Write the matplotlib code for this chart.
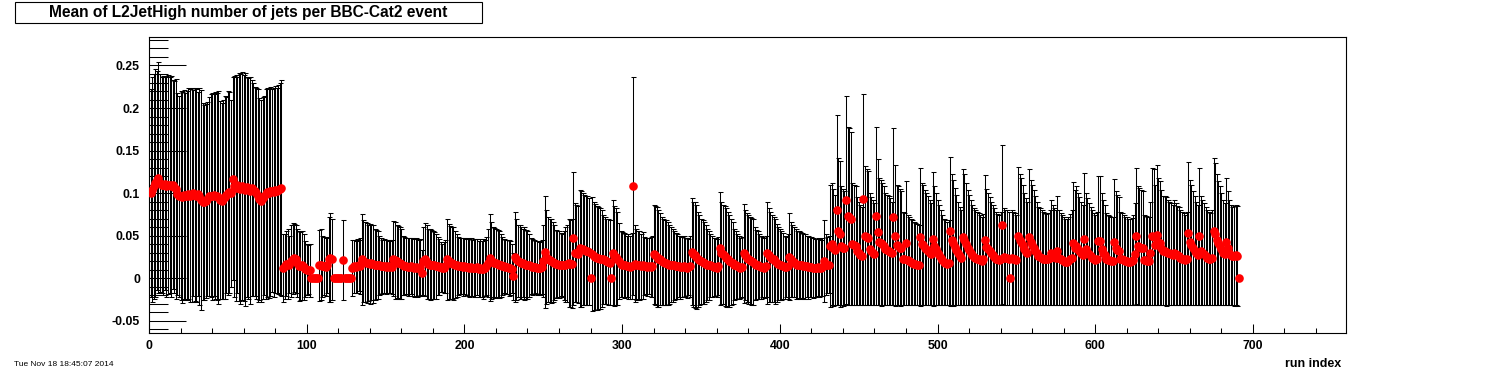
import numpy as np
import matplotlib
matplotlib.use("Agg")
import matplotlib.pyplot as plt
from matplotlib.patches import Rectangle
from matplotlib.ticker import MultipleLocator, FuncFormatter

# ---------------- data (values x 1000), one entry per run index 1..691 ----------------
mean_milli = [
    # runs 1-84
    100,104,108,112,115,118,112,110,109,111, 108,110,109,108,110,107,105,99,96,97,
    95,98,96,97,99,97,98,100,98,97, 99,96,92,90,89,91,93,96,97,96,
    98,97,96,95,92,91,93,95,98,100, 101,100,117,108,106,110,107,105,108,106,
    104,107,105,103,106,104,102,100,97,93, 91,94,97,99,101,100,102,103,101,104,
    103,104,105,106,
    # runs 85-129
    12,14,17,17,16,20,23,24,22,18, 14,14,15,13,11,10,10,9,
    0,0,0,0,0,
    15,16,14,14,13,15,22,24,22,
    0,0,0,0,0,0,
    21,
    0,0,0,0,0,
    12,
    # runs 130-431
    14,13,14,15,14,22,20,19,18,18, 17,18,17,16,16,16,15,14,14,14,
    13,14,13,14,13,23,21,20,18,18, 17,15,14,14,13,13,14,13,12,13,
    12,12,13,6,20,22,19,17,16,16, 15,15,14,14,13,13,12,12,14,22,
    20,18,18,17,16,15,14,14,14,13, 14,13,13,12,13,12,12,12,13,11,
    12,11,11,12,14,18,24,21,19,18, 18,17,16,15,14,14,13,13,12,12,
    11,2,25,22,20,19,18,18,17,16, 16,15,14,13,13,13,12,12,12,13,
    20,31,25,22,21,20,19,18,17,17, 16,16,15,15,16,17,18,17,17,47,
    30,29,28,35,34,34,33,32,32,31, 0,28,26,25,24,24,23,23,22,21,
    20,19,18,0,30,26,25,23,20,17, 16,15,15,14,14,13,14,108,17,16,
    15,15,14,15,14,14,13,14,13,14, 28,27,25,23,22,20,19,18,18,17,
    16,16,15,15,14,14,14,13,13,14, 13,12,13,14,31,28,27,25,22,21,
    20,19,18,17,16,15,15,14,13,13, 12,14,35,30,28,26,24,22,20,19,
    18,16,15,14,13,12,13,29,27,24, 22,21,20,19,17,16,15,14,13,13,
    12,14,30,27,25,23,22,20,18,17, 16,15,14,13,13,14,25,22,20,19,
    17,16,16,15,15,14,14,14,13,13, 13,12,12,12,13,12,12,13,20,16,
    15,16,
    # runs 432-691
    38,40,36,33,80,55,52,38,36,35, 92,73,72,70,40,39,38,32,29,27,
    26,93,50,48,47,34,32,30,28,73, 54,43,41,40,38,34,33,32,31,29,
    72,50,39,38,36,35,23,22,41,21, 20,19,18,17,17,16,15,48,40,39,
    36,34,32,30,28,46,38,34,30,27, 24,21,19,18,17,18,55,45,41,37,
    33,29,26,24,48,45,40,36,33,30, 27,25,24,23,22,21,20,22,45,37,
    34,32,29,27,25,23,22,21,23,63, 25,24,24,23,0,24,23,22,21,50,
    45,43,39,34,31,29,48,42,39,36, 32,29,26,25,24,23,22,22,22,24,
    30,27,25,24,32,24,22,21,20,19, 19,20,22,24,41,36,38,34,32,29,
    27,46,34,31,28,26,24,22,21,23, 44,44,34,30,27,22,21,21,20,20,
    42,35,33,32,23,22,21,20,20,19, 19,20,21,28,50,38,37,36,35,21,
    21,20,20,29,49,48,39,51,43,41, 36,32,32,31,30,29,28,27,30,28,
    27,26,24,23,22,21,23,53,42,39, 35,32,29,27,49,32,30,28,26,24,
    23,22,24,55,52,45,41,38,34,30, 28,43,35,30,27,26,26,27,26,0,
]

upper_milli = [
    # runs 1-84 (top end of the error bar)
    222,236,240,246,244,254,240,237,238,236, 238,239,236,238,233,232,234,218,214,220,
    219,221,218,220,223,222,224,221,223,222, 219,223,221,206,204,205,207,213,216,218,
    217,219,218,220,208,206,210,214,213,220, 219,210,236,238,239,237,241,240,242,239,
    241,236,235,236,233,229,225,224,222,212, 210,213,214,222,224,223,225,222,224,226,
    224,227,230,233,
    # runs 85-129
    52,52,55,58,50,62,65,64,62,58, 55,54,56,52,44,40,39,40,
    0,0,0,0,0,
    57,58,50,48,47,48,72,76,70,
    0,0,0,0,0,0,
    68,
    0,0,0,0,0,
    45,
    # runs 130-431
    45,44,46,45,47,75,68,66,65,63, 64,62,63,58,57,56,50,47,45,46,
    45,45,44,45,45,67,66,63,61,60, 58,50,48,47,47,47,47,47,46,47,
    46,45,46,33,60,65,62,58,58,57, 55,54,52,48,46,42,40,42,45,70,
    64,61,60,60,55,52,48,47,47,47, 47,46,47,46,47,45,46,46,46,44,
    46,44,46,45,48,58,75,66,60,59, 58,57,55,52,48,46,45,45,45,44,
    40,30,78,70,62,62,60,58,60,57, 56,52,47,46,45,44,44,43,44,45,
    62,97,80,72,70,69,66,62,57,56, 55,53,52,56,60,62,70,68,69,125,
    88,86,85,104,102,100,98,96,96,94, 0,95,90,87,85,84,82,80,74,72,
    70,69,68,0,92,85,82,78,65,56, 54,53,52,50,52,50,53,236,62,58,
    55,56,52,54,48,47,47,47,48,50, 86,85,84,80,76,72,70,68,68,66,
    62,60,58,56,53,52,50,50,48,50, 47,47,46,50,94,90,89,86,78,74,
    70,68,66,62,58,56,52,50,47,47, 46,48,101,90,86,85,82,78,74,70,
    66,58,55,52,50,47,48,87,80,76, 74,72,71,70,60,57,55,52,50,48,
    47,50,90,82,78,74,72,70,64,60, 58,56,53,50,48,52,76,66,62,60,
    58,56,55,54,53,52,52,50,50,48, 48,47,46,46,47,46,45,47,68,52,
    48,50,
    # runs 432-691
    110,112,105,98,192,141,138,108,105,102, 214,178,176,172,112,110,108,95,90,86,
    84,217,132,128,126,100,95,92,88,178, 140,118,115,112,108,100,98,96,94,90,
    176,133,110,108,105,102,78,76,114,74, 72,70,68,66,65,64,62,129,112,110,
    104,100,96,92,88,125,108,100,92,86, 80,74,70,68,66,68,143,122,115,106,
    98,90,84,80,128,122,112,104,98,92, 86,82,80,78,76,74,72,75,121,105,
    100,95,90,86,82,78,75,74,78,156, 82,80,80,78,0,80,78,76,74,131,
    122,118,110,100,94,90,128,115,110,104, 96,90,84,82,80,78,76,75,76,80,
    92,86,82,80,96,80,76,74,72,70, 70,72,75,80,113,104,108,100,95,90,
    86,124,100,94,88,84,80,76,74,78, 120,120,100,92,86,76,74,73,72,72,
    116,102,98,95,78,76,74,72,72,70, 70,71,74,88,130,108,106,104,102,74,
    73,72,72,90,130,128,110,133,118,114, 104,96,96,95,92,90,88,86,92,88,
    85,84,80,78,76,74,78,137,115,110, 102,96,90,86,129,96,92,88,84,80,
    78,76,80,141,135,122,114,108,100,92, 88,118,102,92,86,84,85,86,85,0,
]

title_text = "Mean of L2JetHigh number of jets per BBC-Cat2 event"
x_label = "run index"
date_text = "Tue Nov 18 18:45:07 2014"

assert len(mean_milli) == len(upper_milli), (len(mean_milli), len(upper_milli))

mean = np.array(mean_milli, dtype=float) / 1000.0
upper = np.array(upper_milli, dtype=float) / 1000.0
err = upper - mean
run_index = np.arange(1, len(mean) + 1)

# ---------------- figure ----------------
plt.rcParams['font.family'] = ['Liberation Sans', 'DejaVu Sans']
plt.rcParams['font.weight'] = 'bold'

W, H = 1496, 372
fig = plt.figure(figsize=(W / 100, H / 100), dpi=100)
L, R, T, B = 149, 1346, 37, 333
ax = fig.add_axes([L / W, 1 - B / H, (R - L) / W, (B - T) / H])

has_err = err > 0
ax.errorbar(run_index[has_err], mean[has_err], yerr=err[has_err], fmt='none',
            ecolor='black', elinewidth=0.75, capsize=1.8, capthick=0.75, zorder=2)
ax.plot(run_index, mean, 'o', color='#ff0000', markersize=6.2,
        markeredgewidth=0, zorder=3)

ax.set_xlim(0, 759)
ax.set_ylim(-0.0645, 0.2835)

ax.xaxis.set_major_locator(MultipleLocator(100))
ax.xaxis.set_minor_locator(MultipleLocator(20))
ax.yaxis.set_major_locator(MultipleLocator(0.05))
ax.yaxis.set_minor_locator(MultipleLocator(0.01))

def yfmt(v, pos):
    v = round(v, 4)
    if abs(v) < 1e-9:
        return "0"
    return "%g" % v

ax.yaxis.set_major_formatter(FuncFormatter(yfmt))
ax.xaxis.set_major_formatter(FuncFormatter(lambda v, p: "%d" % round(v)))

ax.tick_params(axis='x', which='major', direction='in', length=6.2, width=0.75,
               top=False, labelsize=8.8, pad=5)
ax.tick_params(axis='x', which='minor', direction='in', length=3.3, width=0.75, top=False)
ax.tick_params(axis='y', which='major', direction='in', length=26.6, width=0.75,
               right=False, labelsize=8.8, pad=6.5)
ax.tick_params(axis='y', which='minor', direction='in', length=13.5, width=0.75, right=False)

for sp in ax.spines.values():
    sp.set_linewidth(0.8)

# title box
fig.patches.append(Rectangle((14.5 / W, 1 - 22.5 / H), (482 - 14.5) / W, 21 / H,
                             transform=fig.transFigure, facecolor='white',
                             edgecolor='black', linewidth=0.8))
fig.text(248 / W, 1 - 12 / H, title_text, ha='center', va='center',
         fontsize=11.2, weight='bold')

fig.text(1341 / W, 1 - 364 / H, x_label, ha='right', va='center',
         fontsize=9, weight='bold')
fig.text(14 / W, 1 - 365 / H, date_text, ha='left', va='center',
         fontsize=6.0, weight='normal')

fig.savefig("out.png", dpi=100)
